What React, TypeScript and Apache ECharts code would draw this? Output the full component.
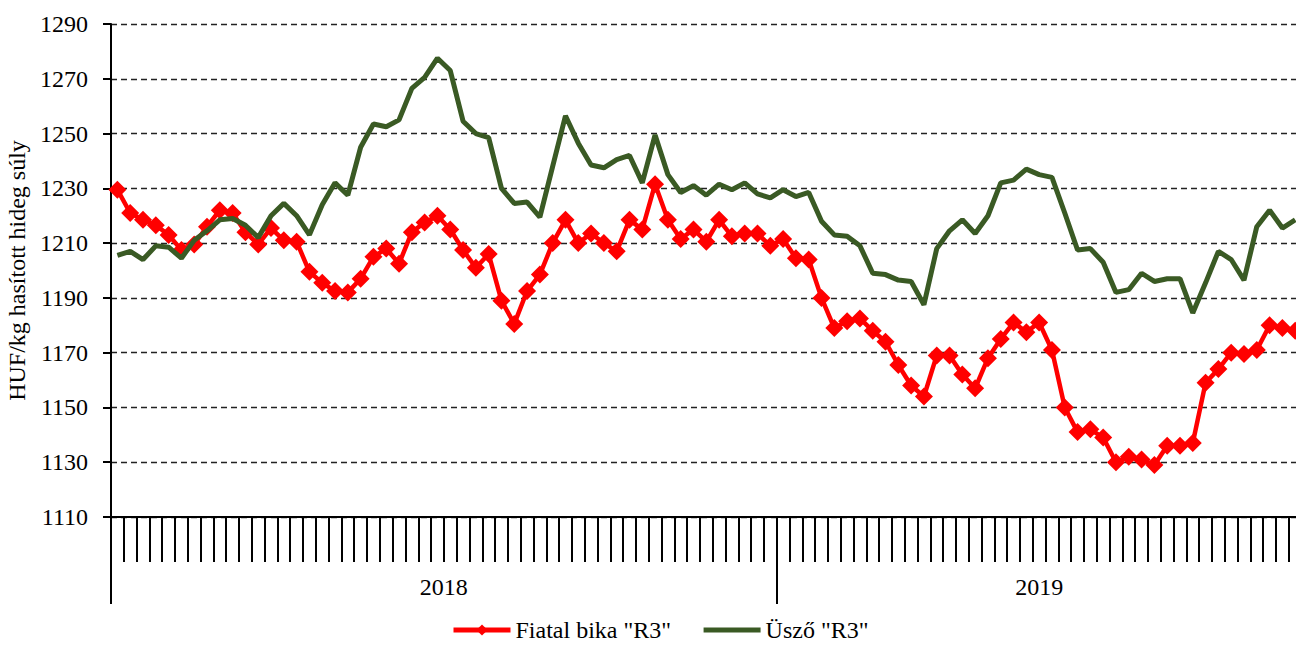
import React, { useEffect, useRef } from "react";
import * as echarts from "echarts";

// ---- data ----
const years = ["2018", "2019"];
const weeksPerYear = [52, 41];
const seriesNames = ['Fiatal bika "R3"', 'Üsző "R3"'];
const yAxisName = "HUF/kg hasított hideg súly";
const yMin = 1110;
const yMax = 1290;
const yStep = 20;

// Fiatal bika "R3" (HUF/kg)
const bika = [
  1229.5, 1221, 1218.5, 1216.5, 1213, 1207.5, 1209.5, 1216, 1222, 1221,
  1214, 1209.5, 1215.5, 1211, 1210.5, 1199.5, 1195.5, 1192.5, 1192, 1197,
  1205, 1208, 1202.5, 1214, 1217.5, 1220, 1215, 1207.5, 1201, 1206,
  1189, 1180.5, 1192.5, 1198.5, 1210, 1218.5, 1210, 1213.5, 1210, 1207,
  1218.5, 1215, 1231.5, 1218.5, 1211.5, 1215, 1210.5, 1218.5, 1212.5, 1213.5,
  1213.5, 1209, 1211.5, 1204.5, 1204, 1190, 1179, 1181.5, 1182.5, 1178,
  1174, 1165.5, 1158, 1154, 1169, 1169, 1162, 1157, 1168, 1175,
  1181, 1177.5, 1181, 1171, 1150, 1141, 1142, 1139, 1130, 1132,
  1131, 1129, 1136, 1136, 1137, 1159, 1164, 1170, 1169.5, 1171,
  1180, 1179, 1178,
];

// Üsző "R3" (HUF/kg)
const uszo = [
  1205.5, 1207, 1204, 1209, 1208.5, 1204.5, 1211, 1214.5, 1218.5, 1219,
  1216.5, 1212, 1220, 1224.5, 1220, 1213, 1224, 1232, 1227.5, 1245,
  1253.5, 1252.5, 1255, 1266.5, 1270.5, 1277.5, 1273, 1254.5, 1250, 1248.5,
  1230, 1224.5, 1225, 1219.5, 1238, 1256.5, 1246.5, 1238.5, 1237.5, 1240.5,
  1242, 1232, 1249.5, 1235, 1228.5, 1231, 1227.5, 1231.5, 1229.5, 1232,
  1228, 1226.5, 1229.5, 1227, 1228.5, 1218, 1213, 1212.5, 1209, 1199,
  1198.5, 1196.5, 1196, 1187.5, 1208, 1214.5, 1218.5, 1213.5, 1220, 1232,
  1233, 1237, 1235, 1234, 1221, 1207.5, 1208, 1203, 1192, 1193,
  1199, 1196, 1197, 1197, 1184.5, 1195.5, 1207, 1204, 1196.5, 1216,
  1222, 1215.5, 1218.5,
];

// week categories
const categories: string[] = [];
years.forEach((y, k) => {
  for (let w = 1; w <= weeksPerYear[k]; w++) categories.push(`${y}. ${w}. hét`);
});

// year boundaries and year-label positions (in week units)
const boundaries: number[] = [0];
const yearMids: number[] = [];
{
  let acc = 0;
  weeksPerYear.forEach((n) => {
    yearMids.push(acc + n / 2);
    acc += n;
    boundaries.push(acc);
  });
}
const totalWeeks = categories.length;

const FONT = "'Liberation Serif', 'Times New Roman', serif";
const RED = "#ff0000";
const GREEN = "#3a5a24";

export default function App() {
  const ref = useRef<HTMLDivElement>(null);
  useEffect(() => {
    if (!ref.current) return;
    const chart = echarts.init(ref.current, undefined, { renderer: "svg" });
    const option: any = {
      animation: false,
      textStyle: { fontFamily: FONT, color: "#000" },
      grid: {
        left: 111,
        top: 24,
        bottom: 131,
        right: -5.6,
        containLabel: false,
        outerBoundsMode: "none",
      },
      legend: {
        left: 451,
        top: 618,
        padding: 0,
        itemWidth: 57,
        itemHeight: 14,
        itemGap: 30,
        textStyle: { fontFamily: FONT, fontSize: 24, color: "#000" },
        data: [
          { name: seriesNames[0], lineStyle: { width: 5 } },
          { name: seriesNames[1], lineStyle: { width: 5 }, itemStyle: { opacity: 0 } },
        ],
      },
      xAxis: [
        {
          type: "category",
          data: categories,
          boundaryGap: true,
          axisLine: { show: true, lineStyle: { color: "#000", width: 2 } },
          axisTick: {
            show: true,
            interval: 0,
            length: 45,
            lineStyle: { color: "#000", width: 2 },
          },
          axisLabel: { show: false },
          splitLine: { show: false },
        },
        {
          type: "value",
          min: 0,
          max: totalWeeks,
          position: "bottom",
          axisLine: { show: false },
          axisTick: {
            show: true,
            customValues: boundaries,
            length: 87,
            lineStyle: { color: "#000", width: 2 },
          },
          axisLabel: {
            show: true,
            customValues: yearMids,
            margin: 58,
            fontFamily: FONT,
            fontSize: 24,
            color: "#000",
            formatter: (v: number) => {
              const idx = yearMids.findIndex((m) => Math.abs(m - v) < 1e-6);
              return idx >= 0 ? years[idx] : "";
            },
          },
          splitLine: { show: false },
        },
      ],
      yAxis: {
        type: "value",
        min: yMin,
        max: yMax,
        interval: yStep,
        name: yAxisName,
        nameLocation: "middle",
        nameGap: 66,
        nameRotate: 90,
        nameTextStyle: { fontFamily: FONT, fontSize: 24, color: "#000" },
        axisLine: { show: true, lineStyle: { color: "#000", width: 2 } },
        axisTick: { show: true, length: 8, lineStyle: { color: "#000", width: 2 } },
        axisLabel: {
          margin: 23,
          fontFamily: FONT,
          fontSize: 24,
          color: "#000",
          formatter: (v: number) => String(v),
        },
        splitLine: {
          show: true,
          lineStyle: { type: [6, 4], color: "#222", width: 1.3 },
        },
      },
      series: [
        {
          name: seriesNames[0],
          type: "line",
          data: bika,
          symbol: "diamond",
          symbolSize: 18,
          showAllSymbol: true,
          lineStyle: { color: RED, width: 4.5 },
          itemStyle: { color: RED },
          z: 2,
        },
        {
          name: seriesNames[1],
          type: "line",
          data: uszo,
          symbol: "none",
          lineStyle: { color: GREEN, width: 5 },
          itemStyle: { color: GREEN },
          z: 3,
        },
      ],
    };
    chart.setOption(option);
    return () => chart.dispose();
  }, []);
  return (
    <div
      ref={ref}
      style={{ position: "fixed", left: 0, top: 0, width: 1296, height: 648, background: "#fff" }}
    />
  );
}
